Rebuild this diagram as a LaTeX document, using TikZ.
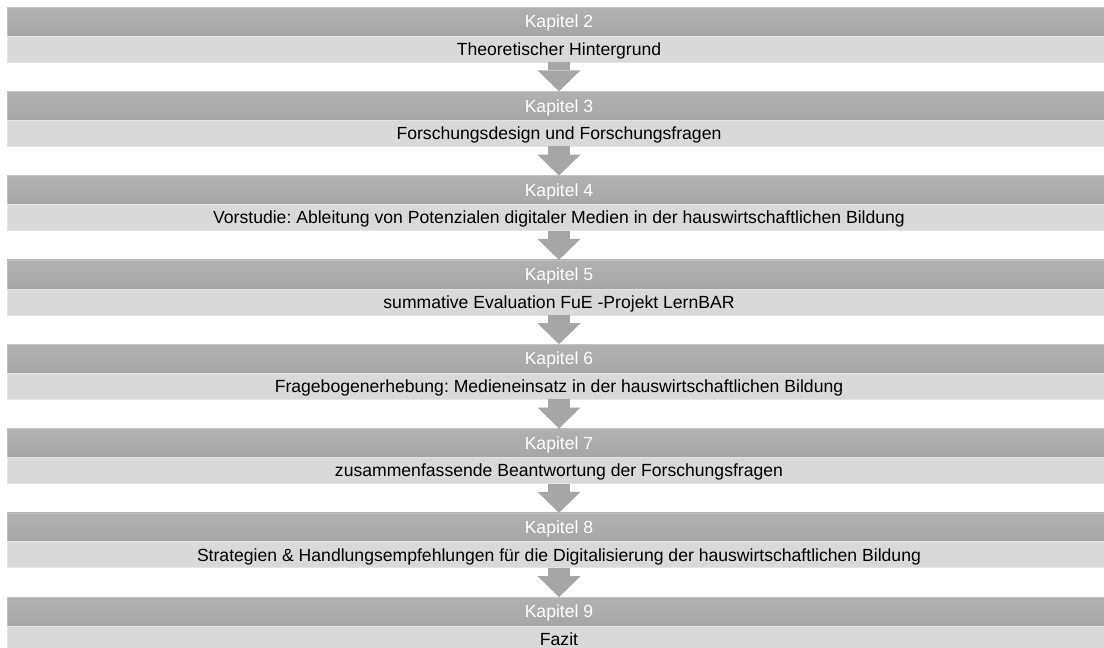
\documentclass[tikz,border=0pt]{standalone}
\usepackage{fontspec}
\setmainfont{Liberation Sans}
\usepackage{tikz}
\usetikzlibrary{positioning,arrows.meta}
\definecolor{headtop}{RGB}{177,177,177}
\definecolor{headbot}{RGB}{166,166,166}
\definecolor{bodyfill}{RGB}{217,217,217}
\definecolor{bodyline}{RGB}{228,228,228}
\definecolor{flowgray}{RGB}{166,166,166}
\frenchspacing

\begin{document}
\begin{tikzpicture}[
  kap/.style={top color=headtop, bottom color=headbot, draw=headtop!80!white, line width=0.6pt,
              minimum width=1104pt, minimum height=29pt, inner sep=0pt, outer sep=0pt,
              text=white, font=\fontsize{17.6}{20}\selectfont, text height=12.5pt, text depth=0pt},
  inh/.style={fill=bodyfill, draw=bodyline, line width=0.8pt,
              minimum width=1104pt, minimum height=26pt, inner sep=0pt, outer sep=0pt,
              text=black, font=\fontsize{17.6}{20}\selectfont, text height=12.5pt, text depth=0pt},
  flow/.style={draw=flowgray, line width=22pt,
               -{Triangle[width=43pt, length=21pt, line width=0pt, fill=flowgray]}},
  node distance=29.3pt]

\useasboundingbox (0pt,0pt) rectangle (1104pt,-648pt);
\fill[white] (0pt,0pt) rectangle (1104pt,-648pt);

\node[kap] (k2) at (559pt,-21.5pt) {Kapitel 2};
\node[inh, below=0pt of k2] (t2) {Theoretischer Hintergrund};
\node[kap, below=of t2] (k3) {Kapitel 3};
\node[inh, below=0pt of k3] (t3) {Forschungsdesign und Forschungsfragen};
\node[kap, below=of t3] (k4) {Kapitel 4};
\node[inh, below=0pt of k4] (t4) {Vorstudie: Ableitung von Potenzialen digitaler Medien in der hauswirtschaftlichen Bildung};
\node[kap, below=of t4] (k5) {Kapitel 5};
\node[inh, below=0pt of k5] (t5) {summative Evaluation FuE -Projekt LernBAR};
\node[kap, below=of t5] (k6) {Kapitel 6};
\node[inh, below=0pt of k6] (t6) {Fragebogenerhebung: Medieneinsatz in der hauswirtschaftlichen Bildung};
\node[kap, below=of t6] (k7) {Kapitel 7};
\node[inh, below=0pt of k7] (t7) {zusammenfassende Beantwortung der Forschungsfragen};
\node[kap, below=of t7] (k8) {Kapitel 8};
\node[inh, below=0pt of k8] (t8) {Strategien \& Handlungsempfehlungen für die Digitalisierung der hauswirtschaftlichen Bildung};
\node[kap, below=of t8] (k9) {Kapitel 9};
\node[inh, below=0pt of k9] (t9) {Fazit};

% Pfeile zwischen den Kapiteln
\draw[flow] (t2.south) -- (k3.north);
\draw[flow] (t3.south) -- (k4.north);
\draw[flow] (t4.south) -- (k5.north);
\draw[flow] (t5.south) -- (k6.north);
\draw[flow] (t6.south) -- (k7.north);
\draw[flow] (t7.south) -- (k8.north);
\draw[flow] (t8.south) -- (k9.north);
\end{tikzpicture}
\end{document}
